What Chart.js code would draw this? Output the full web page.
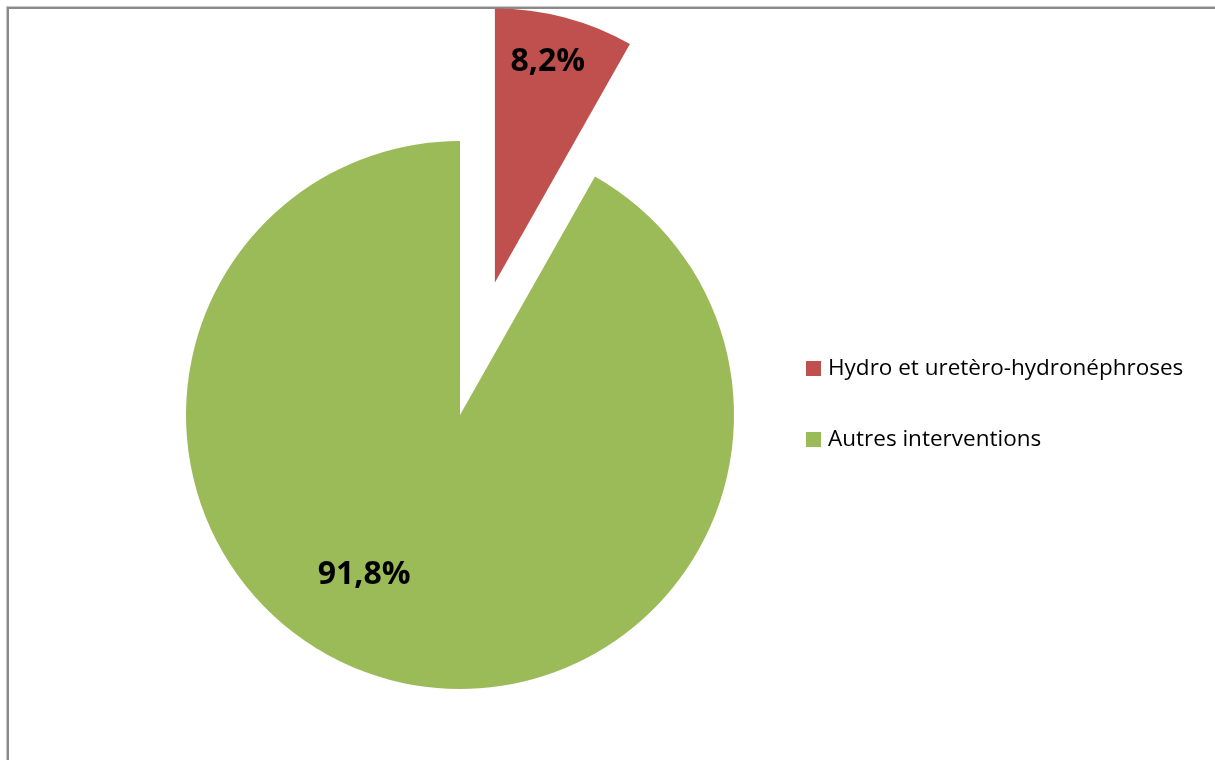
<!DOCTYPE html>
<html>
<head>
<meta charset="utf-8">
<script src="https://cdn.jsdelivr.net/npm/chart.js@4/dist/chart.umd.min.js"></script>
<style>
    html, body { margin: 0; padding: 0; background: #fff; }
    body { width: 1215px; height: 760px; position: relative; overflow: hidden; }
    #frame {
        position: absolute; left: 7px; top: 7px; width: 1230px; height: 780px;
        border-top: 2px solid #8a8a8a; border-left: 2px solid #8a8a8a;
        box-shadow: -1px -1px 0 #c8c8c8;
    }
    #wrap { position: absolute; left: 0; top: 0; width: 1215px; height: 760px; }
</style>
</head>
<body>
<div id="frame"></div>
<div id="wrap"><canvas id="pieChart" width="1215" height="760"></canvas></div>
<script>
// Chart data
const categories = ['Hydro et uretèro-hydronéphroses', 'Autres interventions'];
const shares = [8.2, 91.8];
const sliceColors = ['#C0504D', '#9BBB59'];
const explode = [137, 0];          // distance each slice is pulled out (px)

// label placement: fraction of radius and angle shift from slice middle (deg)
const labelRadius = [0.83, 0.676];
const labelShift = [-1.3, 16.4];

// Draw slices ourselves so the exploded slice keeps its shape
const explodePlugin = {
    id: 'explodePlugin',
    beforeDatasetDraw(chart, args) {
        const ctx = chart.ctx;
        args.meta.data.forEach((arc, i) => {
            const mid = (arc.startAngle + arc.endAngle) / 2;
            const d = explode[i] || 0;
            ctx.save();
            ctx.translate(Math.cos(mid) * d, Math.sin(mid) * d);
            arc.draw(ctx);
            ctx.restore();
        });
        return false;
    },
    afterDatasetsDraw(chart) {
        const ctx = chart.ctx;
        const meta = chart.getDatasetMeta(0);
        ctx.save();
        ctx.fillStyle = '#000';
        ctx.font = 'bold 32px "Open Sans"';
        ctx.textAlign = 'center';
        ctx.textBaseline = 'middle';
        meta.data.forEach((arc, i) => {
            const mid = (arc.startAngle + arc.endAngle) / 2;
            const d = explode[i] || 0;
            const a = mid + labelShift[i] * Math.PI / 180;
            const r = arc.outerRadius * labelRadius[i];
            const x = arc.x + Math.cos(mid) * d + Math.cos(a) * r;
            const y = arc.y + Math.sin(mid) * d + Math.sin(a) * r;
            ctx.fillText(shares[i].toFixed(1).replace('.', ',') + '%', x, y + 1);
        });

        // legend
        ctx.font = '22.5px "Open Sans"';
        ctx.textAlign = 'left';
        categories.forEach((name, i) => {
            const cy = 368 + i * 71;
            ctx.fillStyle = sliceColors[i];
            ctx.fillRect(806, cy - 7, 15, 15);
            ctx.fillStyle = '#000';
            ctx.fillText(name, 828, cy + 1);
        });
        ctx.restore();
    }
};

const ctx = document.getElementById('pieChart').getContext('2d');
const pieChart = new Chart(ctx, {
    type: 'pie',
    data: {
        labels: categories,
        datasets: [{
            data: shares,
            backgroundColor: sliceColors,
            borderWidth: 0,
            clip: false
        }]
    },
    options: {
        responsive: false,
        animation: false,
        devicePixelRatio: 1,
        radius: 274,
        layout: {
            padding: { top: 70, bottom: 0, left: 0, right: 295 }
        },
        plugins: {
            legend: { display: false },
            tooltip: { enabled: false }
        }
    },
    plugins: [explodePlugin]
});
</script>
</body>
</html>
